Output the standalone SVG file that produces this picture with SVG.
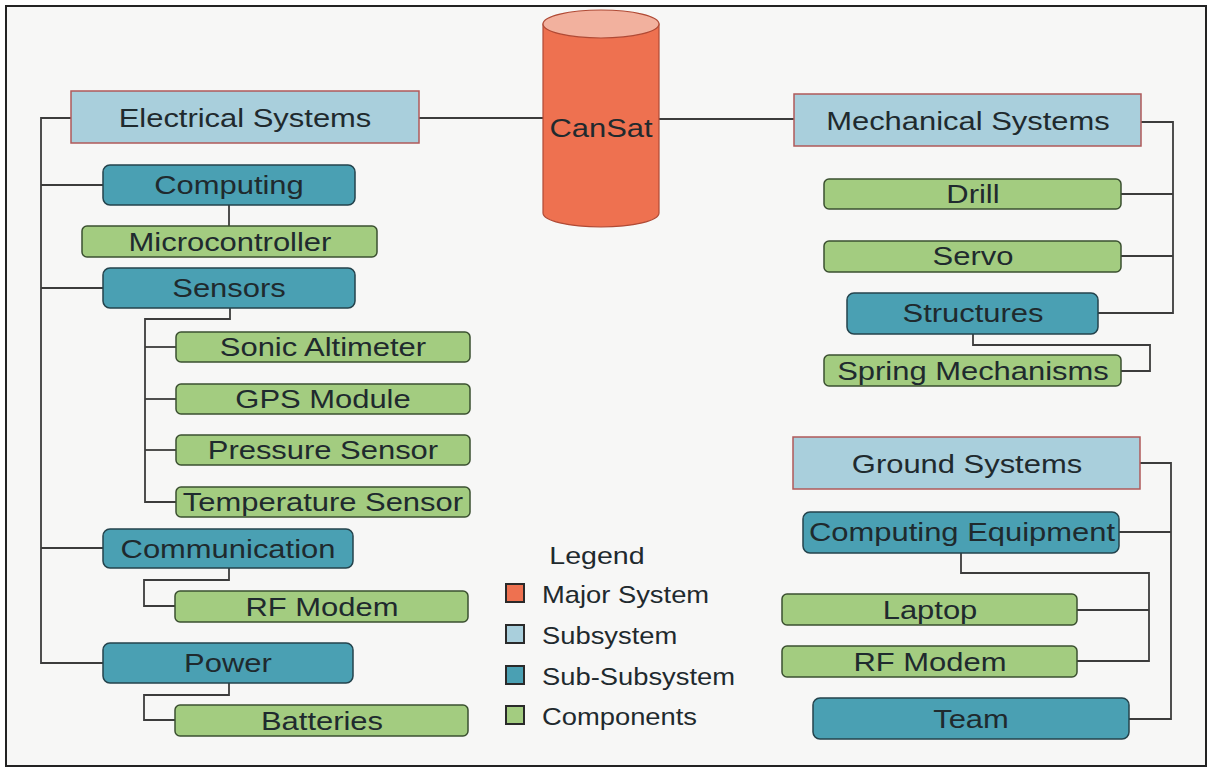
<svg xmlns="http://www.w3.org/2000/svg" width="1209" height="770" viewBox="0 0 1209 770">
<style>
.t{font-family:"Liberation Sans",Arial,sans-serif;font-size:26px;fill:#1f2a2e;text-anchor:middle;transform-box:fill-box;transform-origin:center;transform:scaleX(1.19)}
.lg{font-family:"Liberation Sans",Arial,sans-serif;font-size:24px;fill:#1f2a2e;transform-box:fill-box;transform-origin:left center;transform:scaleX(1.14)}
.sub{fill:#a9cfdc;stroke:#b05a5a;stroke-width:1.5}
.ss{fill:#4aa0b3;stroke:#24434c;stroke-width:1.5}
.cmp{fill:#a3cc80;stroke:#3b5030;stroke-width:1.5}
.c{fill:none;stroke:#3c3c3c;stroke-width:1.8}
.sq{stroke:#2a2a2a;stroke-width:2}
</style>
<rect x="0" y="0" width="1209" height="770" fill="#ffffff"/>
<rect x="6" y="6" width="1200" height="760" fill="#f7f7f6" stroke="#222" stroke-width="2"/>

<g id="connectors">
<path class="c" d="M71,118 H41 V663 H103"/>
<path class="c" d="M41,185 H103"/>
<path class="c" d="M41,288 H103"/>
<path class="c" d="M41,548 H103"/>
<path class="c" d="M229,205 V226"/>
<path class="c" d="M230,308 V319 H145 V502 H176" stroke-width="2.4"/>
<path class="c" d="M145,347 H176"/>
<path class="c" d="M145,399 H176"/>
<path class="c" d="M145,450 H176"/>
<path class="c" d="M229,568 V580 H144 V606 H175"/>
<path class="c" d="M229,683 V695 H144 V720 H175"/>
<path class="c" d="M419,118 H543"/>
<path class="c" d="M659,119 H794"/>
<path class="c" d="M1141,122 H1173 V313 H1098"/>
<path class="c" d="M1121,194 H1173"/>
<path class="c" d="M1121,256 H1173"/>
<path class="c" d="M973,334 V345 H1150 V371 H1121"/>
<path class="c" d="M1140,463 H1171 V719 H1129"/>
<path class="c" d="M1119,532 H1171"/>
<path class="c" d="M961,553 V573 H1149 V661 H1077"/>
<path class="c" d="M1077,610 H1149"/>
</g>

<g id="cansat">
<path d="M543,24 V213 A58,14 0 0 0 659,213 V24 Z" fill="#ee7150" stroke="#b04a35" stroke-width="1.2"/>
<ellipse cx="601" cy="24" rx="58" ry="14" fill="#f2b19e" stroke="#b04a35" stroke-width="1.2"/>
<text class="t" x="601" y="137">CanSat</text>
</g>

<g id="electrical"><rect class="sub" x="71" y="91" width="348" height="52"/><text class="t" x="245" y="127">Electrical Systems</text></g>
<g id="computing"><rect class="ss" x="103" y="165" width="252" height="40" rx="7"/><text class="t" x="229" y="194">Computing</text></g>
<g id="microcontroller"><rect class="cmp" x="82" y="226" width="295" height="31" rx="5"/><text class="t" x="230" y="251">Microcontroller</text></g>
<g id="sensors"><rect class="ss" x="103" y="268" width="252" height="40" rx="7"/><text class="t" x="229" y="297">Sensors</text></g>
<g id="sonic"><rect class="cmp" x="176" y="332" width="294" height="30" rx="5"/><text class="t" x="323" y="356">Sonic Altimeter</text></g>
<g id="gps"><rect class="cmp" x="176" y="384" width="294" height="30" rx="5"/><text class="t" x="323" y="408">GPS Module</text></g>
<g id="pressure"><rect class="cmp" x="176" y="435" width="294" height="30" rx="5"/><text class="t" x="323" y="459">Pressure Sensor</text></g>
<g id="temperature"><rect class="cmp" x="176" y="487" width="294" height="30" rx="5"/><text class="t" x="323" y="511">Temperature Sensor</text></g>
<g id="communication"><rect class="ss" x="103" y="529" width="250" height="39" rx="7"/><text class="t" x="228" y="558">Communication</text></g>
<g id="rfmodem1"><rect class="cmp" x="175" y="591" width="293" height="31" rx="5"/><text class="t" x="322" y="616">RF Modem</text></g>
<g id="power"><rect class="ss" x="103" y="643" width="250" height="40" rx="7"/><text class="t" x="228" y="672">Power</text></g>
<g id="batteries"><rect class="cmp" x="175" y="705" width="293" height="31" rx="5"/><text class="t" x="322" y="730">Batteries</text></g>

<g id="mechanical"><rect class="sub" x="794" y="94" width="347" height="52"/><text class="t" x="968" y="130">Mechanical Systems</text></g>
<g id="drill"><rect class="cmp" x="824" y="179" width="297" height="30" rx="5"/><text class="t" x="973" y="203">Drill</text></g>
<g id="servo"><rect class="cmp" x="824" y="241" width="297" height="31" rx="5"/><text class="t" x="973" y="265">Servo</text></g>
<g id="structures"><rect class="ss" x="847" y="293" width="251" height="41" rx="7"/><text class="t" x="973" y="322">Structures</text></g>
<g id="spring"><rect class="cmp" x="824" y="355" width="297" height="31" rx="5"/><text class="t" x="973" y="380">Spring Mechanisms</text></g>

<g id="ground"><rect class="sub" x="793" y="437" width="347" height="52"/><text class="t" x="967" y="473">Ground Systems</text></g>
<g id="compequip"><rect class="ss" x="803" y="512" width="316" height="41" rx="7"/><text class="t" x="962" y="541">Computing Equipment</text></g>
<g id="laptop"><rect class="cmp" x="782" y="594" width="295" height="31" rx="5"/><text class="t" x="930" y="619">Laptop</text></g>
<g id="rfmodem2"><rect class="cmp" x="782" y="646" width="295" height="31" rx="5"/><text class="t" x="930" y="671">RF Modem</text></g>
<g id="team"><rect class="ss" x="813" y="698" width="316" height="41" rx="7"/><text class="t" x="971" y="728">Team</text></g>

<g id="legend">
<text class="t" x="597" y="564" style="font-size:24px">Legend</text>
<rect class="sq" x="506" y="584" width="18" height="18" fill="#ee7150"/>
<text class="lg" x="542" y="603">Major System</text>
<rect class="sq" x="506" y="625" width="18" height="18" fill="#a9cfdc"/>
<text class="lg" x="542" y="644">Subsystem</text>
<rect class="sq" x="506" y="666" width="18" height="18" fill="#4aa0b3"/>
<text class="lg" x="542" y="685">Sub-Subsystem</text>
<rect class="sq" x="506" y="706" width="18" height="18" fill="#a3cc80"/>
<text class="lg" x="542" y="725">Components</text>
</g>
</svg>
